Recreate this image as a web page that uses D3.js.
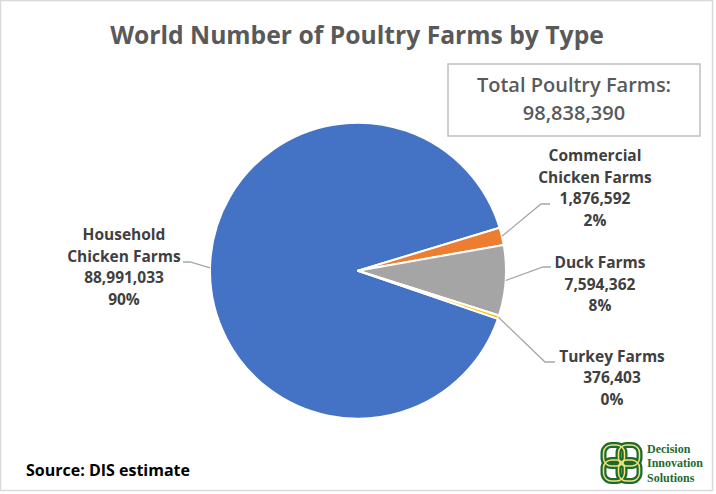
<!DOCTYPE html>
<html><head><meta charset="utf-8">
<script src="https://cdn.jsdelivr.net/npm/d3@7"></script>
<style>body{margin:0;background:#fff}svg{display:block}</style>
</head><body>
<svg id="c" width="716" height="494"></svg>
<script>
const categories = ["Household Chicken Farms", "Commercial Chicken Farms", "Duck Farms", "Turkey Farms"];
const labelLines = [["Household", "Chicken Farms"], ["Commercial", "Chicken Farms"], ["Duck Farms"], ["Turkey Farms"]];
const values = [88991033, 1876592, 7594362, 376403];
const colors = ["#4472C4", "#ED7D31", "#A5A5A5", "#FFC000"];
const titleText = "World Number of Poultry Farms by Type";
const totalLabel = "Total Poultry Farms:";
const sourceText = "Source: DIS estimate";
const logoLines = ["Decision", "Innovation", "Solutions"];

// layout (positions only)
const labelLayout = [
  {x: 124, y: 240, elbow: [190, 262], end: [183, 262]},
  {x: 595, y: 161, elbow: [541, 204], end: [550, 204]},
  {x: 600, y: 268, elbow: [543, 267], end: [551, 267]},
  {x: 612, y: 361.5, elbow: [545, 362], end: [555, 362]}
];

const svg = d3.select("#c");
svg.append("rect").attr("x", 0.5).attr("y", 0.5).attr("width", 712).attr("height", 490)
  .attr("fill", "#fff").attr("stroke", "#D9D9D9").attr("stroke-width", 1.5);

const font = "'Open Sans', Lato, sans-serif";
svg.append("text").attr("x", 357).attr("y", 44).attr("text-anchor", "middle")
  .attr("font-family", font).attr("font-weight", "bold").attr("font-size", 24.7)
  .attr("fill", "#595959").text(titleText);

const total = d3.sum(values);
svg.append("rect").attr("x", 448).attr("y", 64).attr("width", 252).attr("height", 72)
  .attr("fill", "#fff").attr("stroke", "#BFBFBF").attr("stroke-width", 1.5);
svg.append("text").attr("x", 574).attr("y", 92).attr("text-anchor", "middle")
  .attr("font-family", font).attr("font-weight", 600).attr("font-size", 20)
  .attr("fill", "#595959").text(totalLabel);
svg.append("text").attr("x", 574).attr("y", 120).attr("text-anchor", "middle")
  .attr("font-family", font).attr("font-weight", 600).attr("font-size", 20)
  .attr("fill", "#595959").text(d3.format(",")(total));

const cx = 358, cy = 270.7, r = 148;
const start = 109 * Math.PI / 180;
const pie = d3.pie().sort(null).startAngle(start).endAngle(start + 2 * Math.PI);
const arcs = pie(values);
const arc = d3.arc().innerRadius(0).outerRadius(r);
const g = svg.append("g").attr("transform", `translate(${cx},${cy})`);
g.selectAll("path").data(arcs).join("path")
  .attr("d", arc).attr("fill", (d, i) => colors[i])
  .attr("stroke", "#fff").attr("stroke-width", 2).attr("stroke-linejoin", "round");

const fmt = d3.format(",");
arcs.forEach((d, i) => {
  const a = (d.startAngle + d.endAngle) / 2;
  const px = cx + r * Math.sin(a), py = cy - r * Math.cos(a);
  const L = labelLayout[i];
  svg.append("polyline")
    .attr("points", [[px, py], L.elbow, L.end].map(p => p.join(",")).join(" "))
    .attr("fill", "none").attr("stroke", "#A6A6A6").attr("stroke-width", 1.3);
  const lines = labelLines[i].concat([fmt(values[i]), Math.round(values[i] / total * 100) + "%"]);
  const t = svg.append("text").attr("text-anchor", "middle")
    .attr("font-family", font).attr("font-weight", "bold").attr("font-size", 15.5)
    .attr("fill", "#404040");
  lines.forEach((s, k) => {
    t.append("tspan").attr("x", L.x).attr("y", L.y + k * 21.7).text(s);
  });
});

svg.append("text").attr("x", 26).attr("y", 476)
  .attr("font-family", font).attr("font-weight", "bold").attr("font-size", 16)
  .attr("fill", "#000").text(sourceText);

// logo
const lg = svg.append("g").attr("transform", "translate(621.5,463)");
[0, 90, 180, 270].forEach(rot => {
  lg.append("rect").attr("transform", `rotate(${rot})`).attr("x", -18).attr("y", -18)
    .attr("width", 21).attr("height", 21).attr("rx", 8)
    .attr("fill", "none").attr("stroke", "#1E6B30").attr("stroke-width", 6);
});
[0, 90, 180, 270].forEach(rot => {
  lg.append("rect").attr("transform", `rotate(${rot})`).attr("x", -18).attr("y", -18)
    .attr("width", 21).attr("height", 21).attr("rx", 8)
    .attr("fill", "none").attr("stroke", "#F3E27A").attr("stroke-width", 1.5);
});
logoLines.forEach((s, k) => {
  svg.append("text").attr("x", 647).attr("y", 452.5 + k * 14.5)
    .attr("font-family", "'Liberation Serif', serif").attr("font-weight", "bold").attr("font-size", 12)
    .attr("fill", "#1E6B30").text(s);
});
</script>
</body></html>
